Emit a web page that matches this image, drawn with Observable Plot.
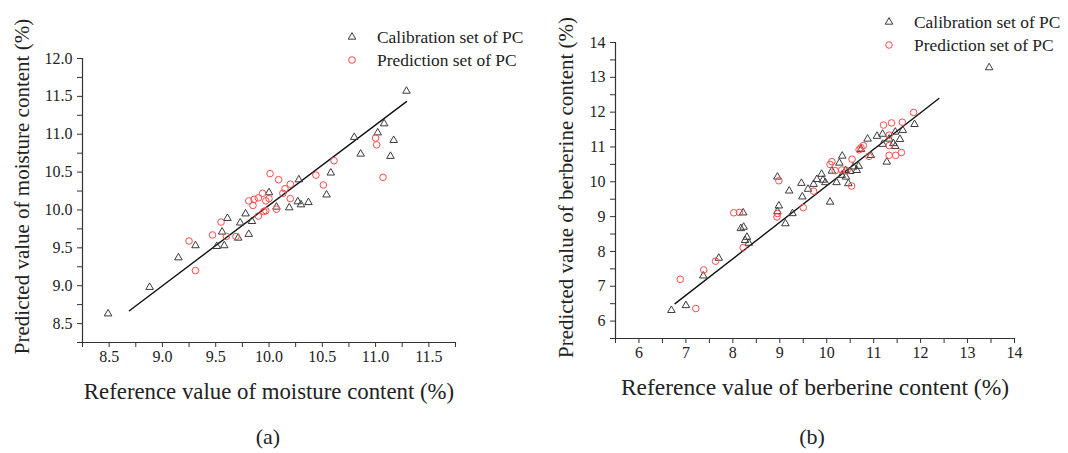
<!DOCTYPE html>
<html><head><meta charset="utf-8">
<script src="https://cdn.jsdelivr.net/npm/d3@7"></script>
<script src="https://cdn.jsdelivr.net/npm/@observablehq/plot@0.6"></script>
<style>
body{margin:0;background:#fff;}
#wrap{position:relative;width:1068px;height:453px;font-family:"Liberation Serif","Times New Roman",serif;color:#222;overflow:hidden;}
.panel{position:absolute;top:0;width:534px;}
.cap{position:absolute;top:424px;font-size:22px;text-align:center;width:80px;line-height:26px;}
.leg{position:absolute;font-size:17.4px;white-space:nowrap;line-height:22px;display:flex;align-items:center;}
.leg svg{margin-right:19px;overflow:visible;}
</style></head><body><div id="wrap"></div><script>
// ---- Panel (a): moisture content ----
const calMoistRef  = [8.49,8.88,9.15,9.31,9.51,9.58,9.56,9.61,9.71,9.73,9.78,9.81,9.84,10.00,10.07,10.19,10.28,10.27,10.30,10.37,10.54,10.58,10.80,10.86,11.02,11.08,11.17,11.14,11.29];
const calMoistPred = [8.63,8.98,9.37,9.53,9.52,9.53,9.71,9.89,9.63,9.83,9.95,9.68,9.85,10.23,10.04,10.03,10.40,10.11,10.07,10.10,10.20,10.49,10.96,10.74,11.02,11.14,10.92,10.71,11.57];
const preMoistRef  = [9.25,9.31,9.47,9.55,9.60,9.69,9.81,9.86,9.85,9.90,9.90,9.94,9.97,9.95,9.97,10.00,10.01,10.07,10.09,10.13,10.15,10.20,10.20,10.44,10.51,10.61,11.00,11.01,11.07];
const preMoistPred = [9.59,9.20,9.67,9.84,9.65,9.65,10.12,10.14,10.06,10.16,9.92,10.22,10.12,9.98,9.99,10.15,10.48,10.01,10.40,10.22,10.28,10.34,10.15,10.46,10.33,10.65,10.95,10.86,10.43];
const fitMoistX = [8.69, 11.29];
const fitMoistY = [8.67, 11.43];
const moistXTicks = [8.5,9.0,9.5,10.0,10.5,11.0,11.5];
const moistXMinor = [8.25,8.75,9.25,9.75,10.25,10.75,11.25,11.75];
const moistYTicks = [8.5,9.0,9.5,10.0,10.5,11.0,11.5,12.0];
const moistYMinor = [8.25,8.75,9.25,9.75,10.25,10.75,11.25,11.75];

// ---- Panel (b): berberine content ----
const calBerbRef  = [6.69,7.00,7.37,7.70,8.17,8.23,8.22,8.30,8.34,8.26,8.95,8.98,8.95,9.12,9.27,9.20,9.46,9.48,9.60,9.72,9.79,9.89,9.97,10.07,10.11,10.21,10.27,10.33,10.32,10.40,10.46,10.57,10.64,10.68,10.73,10.87,10.94,11.07,11.19,11.19,11.28,11.33,11.42,11.46,11.56,11.62,11.87,13.46,10.41,9.92,10.50,11.46];
const calBerbPred = [6.31,6.45,7.30,7.81,8.66,8.70,9.11,8.41,8.24,8.32,10.14,9.31,9.15,8.80,9.09,9.74,9.96,9.57,9.79,9.93,10.07,10.22,9.98,9.42,10.31,9.98,10.54,10.74,10.19,10.33,9.95,10.43,10.33,10.45,10.93,11.23,10.76,11.31,11.37,11.08,10.57,11.23,11.10,11.43,11.22,11.48,11.65,13.28,10.14,10.05,10.30,11.02];
const preBerbRef  = [6.88,7.21,7.38,7.63,8.02,8.14,8.22,8.94,8.95,8.98,9.50,9.72,10.07,10.11,10.18,10.32,10.43,10.53,10.54,10.69,10.73,10.78,10.90,11.21,11.33,11.33,11.33,11.38,11.47,11.59,11.61,11.85];
const preBerbPred = [7.20,6.36,7.47,7.72,9.11,9.12,8.11,8.99,9.09,10.03,9.26,9.73,10.50,10.58,10.32,10.34,10.32,9.88,10.65,10.92,10.98,11.04,10.73,11.63,11.34,11.04,10.76,11.69,10.76,10.84,11.71,11.99];
const fitBerbX = [6.77, 12.39];
const fitBerbY = [6.50, 12.39];
const berbXTicks = [6,7,8,9,10,11,12,13,14];
const berbXMinor = [5.5,6.5,7.5,8.5,9.5,10.5,11.5,12.5,13.5];
const berbYTicks = [6,7,8,9,10,11,12,13,14];
const berbYMinor = [5.5,6.5,7.5,8.5,9.5,10.5,11.5,12.5,13.5];

const legendLabels = ["Calibration set of PC", "Prediction set of PC"];
const captions = ["(a)", "(b)"];

const TRI_R = 2.8, CIR_R = 3.3;
const TRI_STROKE = "#3a3a3a", CIR_STROKE = "#ff4a4a";
const FONT = "'Liberation Serif', 'Times New Roman', serif";

function zip(xs, ys){ return xs.map((x,i)=>({x, y: ys[i]})); }

function panel(o){
  return Plot.plot({
    width: 534, height: 415,
    marginLeft: o.ml, marginRight: o.mr, marginTop: o.mt, marginBottom: o.mb,
    style: {fontFamily: FONT, fontSize: "16px", color: "#222", background: "#fff"},
    x: {domain: o.xDomain},
    y: {domain: o.yDomain},
    marks: [
      Plot.axisX({ticks: o.xTicks, tickSize: 5, tickPadding: 3, tickFormat: o.fmt, label: null, stroke: "#333", fill: "#222"}),
      Plot.axisX({ticks: o.xMinor, tickSize: 5, tickFormat: () => "", label: null, stroke: "#333"}),
      Plot.axisY({ticks: o.yTicks, tickSize: 5, tickPadding: 5, tickFormat: o.fmt, label: null, stroke: "#333", fill: "#222"}),
      Plot.axisY({ticks: o.yMinor, tickSize: 5, tickFormat: () => "", label: null, stroke: "#333"}),
      Plot.frame({anchor: "left", stroke: "#333", strokeWidth: 1.2}),
      Plot.frame({anchor: "bottom", stroke: "#333", strokeWidth: 1.2}),
      Plot.line(zip(o.fitX, o.fitY), {x: "x", y: "y", stroke: "#111", strokeWidth: 1.4}),
      Plot.dot(zip(o.calX, o.calY), {x: "x", y: "y", symbol: "triangle", r: TRI_R, stroke: TRI_STROKE, fill: "none", strokeWidth: 1}),
      Plot.dot(zip(o.preX, o.preY), {x: "x", y: "y", symbol: "circle", r: CIR_R, stroke: CIR_STROKE, fill: "none", strokeWidth: 1}),
      Plot.text([o.xLabel], {text: d => d, frameAnchor: "bottom", textAnchor: "middle", lineAnchor: "bottom", dy: o.xdy, fontSize: o.xfs, fill: "#222"}),
      Plot.text([o.yLabel], {text: d => d, frameAnchor: "left", textAnchor: "middle", lineAnchor: "bottom", rotate: -90, dx: o.ydx, dy: o.ydy, fontSize: 21, fill: "#222"})
    ]
  });
}

const wrap = document.getElementById("wrap");

function addPanel(left, plot){
  const d = document.createElement("div");
  d.className = "panel"; d.style.left = left + "px";
  d.appendChild(plot); wrap.appendChild(d);
}

addPanel(0, panel({
  ml: 82, mr: 79, mt: 58, mb: 73,
  xDomain: [8.25, 11.75], yDomain: [8.25, 12.0],
  xTicks: moistXTicks, xMinor: moistXMinor, yTicks: moistYTicks, yMinor: moistYMinor,
  fmt: d3.format(".1f"),
  calX: calMoistRef, calY: calMoistPred, preX: preMoistRef, preY: preMoistPred,
  fitX: fitMoistX, fitY: fitMoistY,
  xLabel: "Reference value of moisture content (%)", yLabel: "Predicted value of moisture content (%)",
  xdy: 56, xfs: 22.8, ydx: -54, ydy: -14
}));

addPanel(534, panel({
  ml: 81, mr: 54, mt: 42, mb: 77,
  xDomain: [5.5, 14], yDomain: [5.5, 14],
  xTicks: berbXTicks, xMinor: berbXMinor, yTicks: berbYTicks, yMinor: berbYMinor,
  fmt: d3.format("d"),
  calX: calBerbRef, calY: calBerbPred, preX: preBerbRef, preY: preBerbPred,
  fitX: fitBerbX, fitY: fitBerbY,
  xLabel: "Reference value of berberine content (%)", yLabel: "Predicted value of berberine content (%)",
  xdy: 56, xfs: 23.5, ydx: -43, ydy: -3
}));

function symbolSvg(kind){
  const ns = "http://www.w3.org/2000/svg";
  const s = document.createElementNS(ns, "svg");
  s.setAttribute("width", 12); s.setAttribute("height", 12);
  const p = document.createElementNS(ns, "path");
  const r = kind === "tri" ? TRI_R : CIR_R;
  p.setAttribute("d", d3.symbol(kind === "tri" ? d3.symbolTriangle : d3.symbolCircle, Math.PI * r * r)());
  p.setAttribute("transform", "translate(6,6)");
  p.setAttribute("fill", "none");
  p.setAttribute("stroke", kind === "tri" ? TRI_STROKE : CIR_STROKE);
  p.setAttribute("stroke-width", 1);
  s.appendChild(p);
  return s;
}

function addLegend(left, top){
  ["tri","cir"].forEach((k, i) => {
    const d = document.createElement("div");
    d.className = "leg";
    d.style.left = left + "px"; d.style.top = (top + i * 22.5) + "px";
    d.appendChild(symbolSvg(k));
    d.appendChild(document.createTextNode(legendLabels[i]));
    wrap.appendChild(d);
  });
}
addLegend(346, 26);
addLegend(883, 11);

[[228, 0], [772, 1]].forEach(([l, i]) => {
  const c = document.createElement("div");
  c.className = "cap"; c.style.left = l + "px"; c.textContent = captions[i];
  wrap.appendChild(c);
});
</script></body></html>
